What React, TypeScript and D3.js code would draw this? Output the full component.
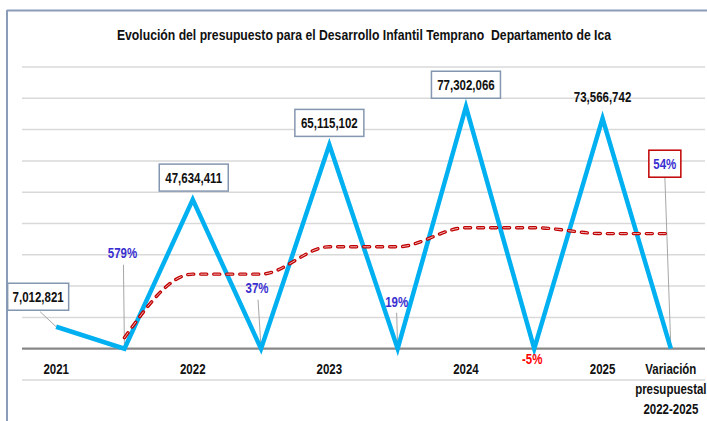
import React from "react";
import * as d3 from "d3";

const categories = ["2021", "", "2022", "", "2023", "", "2024", "", "2025", "Variación presupuestal 2022-2025"];
const budgetValues = [7012821, 5.79, 47634411, 0.37, 65115102, 0.19, 77302066, -0.05, 73566742, 0.54];
const pointLabels = ["7,012,821", "579%", "47,634,411", "37%", "65,115,102", "19%", "77,302,066", "-5%", "73,566,742", "54%"];
const trendValues: (number | null)[] = [null, 3506000, 23820000, 23820000, 32560000, 32560000, 38650000, 38650000, 36780000, 36780000];
const yTicks = [-10e6, 0, 10e6, 20e6, 30e6, 40e6, 50e6, 60e6, 70e6, 80e6, 90e6];
const title = "Evolución del presupuesto para el Desarrollo Infantil Temprano  Departamento de Ica";

type LabelStyle = { dx: number; dy: number; box: "slate" | "red" | null; color: string; leader: [number, number] | null; w?: number };
const labelLayout: LabelStyle[] = [
  { dx: -18, dy: -30, box: "slate", color: "#111", leader: null, w: 61 },
  { dx: -2, dy: -96, box: null, color: "#3a2fd0", leader: [-1, -84] },
  { dx: 1, dy: -22, box: "slate", color: "#111", leader: null, w: 69 },
  { dx: -4, dy: -61, box: null, color: "#3a2fd0", leader: [-3, -49] },
  { dx: 0, dy: -22, box: "slate", color: "#111", leader: null, w: 69 },
  { dx: -1, dy: -47, box: null, color: "#3a2fd0", leader: [-1, -36] },
  { dx: 0, dy: -22, box: "slate", color: "#111", leader: null, w: 69 },
  { dx: -2, dy: 10, box: null, color: "#ff0000", leader: null },
  { dx: 0, dy: -21, box: null, color: "#111", leader: null },
  { dx: -6, dy: -185, box: "red", color: "#3a2fd0", leader: [-6, -172], w: 32 },
];

const W = 707;
const H = 421;
const FONT = "'Liberation Sans', Arial, sans-serif";
const SX = 0.82;

function NText({ x, y, children, size = 14, fill = "#111" }: { x: number; y: number; children: React.ReactNode; size?: number; fill?: string }) {
  return (
    <text
      transform={`translate(${x},${y}) scale(${SX},1)`}
      dy="0.36em"
      textAnchor="middle"
      fontWeight="bold"
      fontSize={size}
      fill={fill}
    >
      {children}
    </text>
  );
}

export default function App() {
  const x = d3.scaleBand<number>().domain(d3.range(categories.length)).range([22, 705]).padding(0);
  const cx = (i: number) => (x(i) as number) + x.bandwidth() / 2;
  const y = d3.scaleLinear().domain([-10e6, 90e6]).range([380, 67]);

  const line = d3
    .line<number>()
    .x((_, i) => cx(i))
    .y((d) => y(d));

  const trendPts = trendValues
    .map((v, i) => ({ v, i }))
    .filter((p) => p.v !== null) as { v: number; i: number }[];
  const trendLine = d3
    .line<{ v: number; i: number }>()
    .x((p) => cx(p.i))
    .y((p) => y(p.v))
    .curve(d3.curveMonotoneX);

  return (
    <svg width={W} height={H} style={{ position: "absolute", left: 0, top: 0, background: "#fff" }} fontFamily={FONT}>
      <rect x={0} y={0} width={W} height={H} fill="#fff" />
      <line x1={7} x2={W} y1={10.5} y2={10.5} stroke="#8a9cb8" strokeWidth={2} />
      <line x1={7} x2={7} y1={10} y2={H} stroke="#8a9cb8" strokeWidth={2} />
      <NText x={364} y={35} size={14.9}>
        <tspan style={{ whiteSpace: "pre" }}>{title}</tspan>
      </NText>
      {yTicks.filter((t) => t !== 0).map((t) => (
        <line key={t} x1={22} x2={705} y1={y(t)} y2={y(t)} stroke="#d9d9d9" strokeWidth={1.5} />
      ))}
      <line x1={22} x2={705} y1={y(0)} y2={y(0)} stroke="#878787" strokeWidth={2.2} />
      {categories.map((c, i) => {
        if (!c) return null;
        const words = i === categories.length - 1 ? ["Variación", "presupuestal", "2022-2025"] : [c];
        return (
          <g key={i}>
            {words.map((w, k) => (
              <NText key={k} x={cx(i)} y={369 + k * 20} size={14}>
                {w}
              </NText>
            ))}
          </g>
        );
      })}
      {labelLayout.map((l, i) =>
        l.leader ? (
          <line
            key={"ld" + i}
            x1={cx(i) + l.leader[0]}
            y1={y(budgetValues[i]) + l.leader[1]}
            x2={cx(i)}
            y2={y(budgetValues[i])}
            stroke="#a6a6a6"
            strokeWidth={1}
          />
        ) : null
      )}
      <line x1={cx(0) - 16} y1={y(budgetValues[0]) - 15} x2={cx(0)} y2={y(budgetValues[0])} stroke="#a6a6a6" strokeWidth={1} />
      <path d={line(budgetValues) || ""} fill="none" stroke="#00b0f0" strokeWidth={4.5} strokeLinejoin="miter" />
      <path d={trendLine(trendPts) || ""} fill="none" stroke="#c00000" strokeWidth={3.4} strokeDasharray="6,7" strokeLinecap="round" />
      <path d={trendLine(trendPts) || ""} fill="none" stroke="#fbe3e3" strokeWidth={0.8} strokeDasharray="6,7" strokeLinecap="round" />
      {labelLayout.map((l, i) => {
        const px = cx(i) + l.dx;
        const py = y(budgetValues[i]) + l.dy;
        return (
          <g key={"lb" + i}>
            {l.box && (
              <rect
                x={px - (l.w || 60) / 2}
                y={py - 13.5}
                width={l.w || 60}
                height={27}
                fill="#fff"
                stroke={l.box === "red" ? "#c00000" : "#8497b0"}
                strokeWidth={1.5}
              />
            )}
            <NText x={px} y={py} size={14} fill={l.color}>
              {pointLabels[i]}
            </NText>
          </g>
        );
      })}
    </svg>
  );
}
